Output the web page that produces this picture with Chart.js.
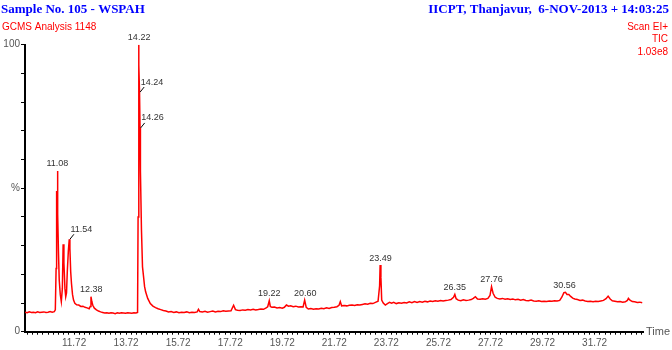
<!DOCTYPE html>
<html>
<head>
<meta charset="utf-8">
<script src="https://cdn.jsdelivr.net/npm/chart.js@4.4.1/dist/chart.umd.min.js"></script>
<style>
  html, body { margin: 0; padding: 0; background: #fff; }
  #wrap { width: 672px; height: 350px; }
</style>
</head>
<body>
<div id="wrap"><canvas id="tic" width="672" height="350"></canvas></div>
<script>
// retention time (min) and relative abundance (%)
const retentionTimes = [
  9.84, 9.92, 10.00, 10.08, 10.16, 10.24, 10.32, 10.40, 10.48, 10.56, 10.64, 10.72, 10.80, 10.88, 10.96,
  11.00, 11.03, 11.05, 11.065, 11.08, 11.10, 11.12, 11.15, 11.19, 11.23, 11.27, 11.30, 11.33, 11.37, 11.40,
  11.43, 11.46, 11.50, 11.535, 11.56, 11.59, 11.62, 11.66, 11.70, 11.75, 11.82, 11.90, 11.98, 12.06, 12.14,
  12.22, 12.30, 12.34, 12.37, 12.40, 12.44, 12.50, 12.58, 12.66, 12.74, 12.82, 12.90, 12.98, 13.06, 13.14,
  13.22, 13.30, 13.38, 13.46, 13.54, 13.62, 13.70, 13.78, 13.86, 13.94, 14.02, 14.10, 14.16, 14.18, 14.20,
  14.215, 14.235, 14.255, 14.27, 14.31, 14.35, 14.39, 14.43, 14.47, 14.55, 14.65, 14.75, 14.85, 14.95, 15.05,
  15.15, 15.25, 15.35, 15.45, 15.55, 15.65, 15.75, 15.85, 15.95, 16.05, 16.15, 16.25, 16.35, 16.45, 16.50,
  16.55, 16.65, 16.75, 16.85, 16.95, 17.05, 17.15, 17.25, 17.35, 17.45, 17.55, 17.65, 17.75, 17.85, 17.92,
  18.00, 18.10, 18.20, 18.30, 18.40, 18.50, 18.60, 18.70, 18.80, 18.90, 19.00, 19.10, 19.16, 19.22, 19.26,
  19.32, 19.42, 19.52, 19.62, 19.72, 19.80, 19.88, 19.96, 20.04, 20.14, 20.24, 20.34, 20.44, 20.52, 20.58,
  20.64, 20.72, 20.82, 20.92, 21.02, 21.12, 21.22, 21.32, 21.42, 21.52, 21.62, 21.72, 21.82, 21.90, 21.95,
  22.00, 22.10, 22.20, 22.30, 22.40, 22.50, 22.60, 22.70, 22.80, 22.90, 23.00, 23.10, 23.20, 23.30, 23.40,
  23.46, 23.48, 23.51, 23.54, 23.60, 23.68, 23.76, 23.84, 23.92, 24.00, 24.10, 24.20, 24.30, 24.40, 24.50,
  24.60, 24.70, 24.80, 24.90, 25.00, 25.10, 25.20, 25.30, 25.40, 25.50, 25.60, 25.70, 25.80, 25.90, 26.00,
  26.10, 26.20, 26.30, 26.35, 26.40, 26.48, 26.58, 26.68, 26.78, 26.88, 26.98, 27.06, 27.14, 27.22, 27.32,
  27.42, 27.52, 27.62, 27.70, 27.76, 27.82, 27.90, 27.98, 28.08, 28.18, 28.28, 28.38, 28.48, 28.58, 28.68,
  28.78, 28.88, 28.98, 29.08, 29.18, 29.28, 29.38, 29.48, 29.58, 29.68, 29.78, 29.88, 29.98, 30.08, 30.18,
  30.28, 30.38, 30.46, 30.54, 30.60, 30.66, 30.73, 30.80, 30.88, 30.96, 31.06, 31.16, 31.26, 31.36, 31.46,
  31.56, 31.66, 31.76, 31.86, 31.96, 32.06, 32.16, 32.24, 32.32, 32.40, 32.50, 32.60, 32.70, 32.80, 32.90,
  32.98, 33.02, 33.08, 33.17, 33.26, 33.36, 33.46, 33.55
];
const abundance = [
  6.8, 6.6, 6.9, 6.7, 6.8, 6.6, 6.9, 6.7, 6.8, 6.9, 6.7, 6.8, 7.0, 6.8, 7.0,
  7.6, 22, 49, 44, 56, 41, 28, 18, 13, 10.5, 15, 30.5, 24, 15, 12.2,
  13.5, 21, 28, 32.2, 29, 21, 16.9, 13, 11, 9.9, 9.4, 9.3, 8.8, 8.9, 8.5,
  8.3, 8.0, 8.8, 12.2, 10.6, 9.2, 8.2, 7.6, 7.2, 6.9, 6.7, 6.5, 6.6, 6.4, 6.6,
  6.5, 6.3, 6.6, 6.4, 6.6, 6.5, 6.4, 6.6, 6.5, 6.4, 6.6, 6.5, 6.7, 40, 100,
  93, 83.5, 71, 56, 35.4, 22.6, 19.2, 15.7, 13.9, 11.6, 9.8, 8.9, 8.4, 8.0, 7.7,
  7.4, 7.2, 6.9, 7.0, 6.7, 6.9, 6.6, 6.8, 6.7, 6.9, 6.6, 6.8, 6.7, 6.9, 7.8,
  7.0, 6.9, 7.1, 6.8, 7.0, 7.2, 6.9, 7.1, 7.0, 7.3, 7.1, 7.2, 7.3, 9.2, 7.7,
  7.5, 7.4, 7.6, 7.5, 7.7, 7.6, 7.8, 7.6, 7.7, 7.9, 7.8, 8.3, 8.7, 10.8, 8.8,
  8.5, 8.6, 8.3, 8.4, 8.2, 8.5, 9.3, 8.9, 9.0, 8.7, 8.9, 8.6, 8.7, 8.6, 11.0,
  8.5, 7.9, 8.1, 7.8, 8.0, 7.9, 8.2, 8.0, 8.3, 8.1, 8.4, 8.5, 8.7, 9.2, 10.5,
  9.0, 9.1, 9.0, 9.2, 9.3, 9.1, 9.4, 9.3, 9.5, 9.7, 9.6, 9.9, 9.8, 10.2, 10.6,
  16, 23.2, 19, 11, 10.0, 9.3, 9.8, 10.2, 9.9, 10.2, 9.8, 10.1, 9.9, 10.2, 10.0,
  10.4, 10.1, 10.5, 10.2, 10.5, 10.3, 10.6, 10.4, 10.7, 10.5, 10.8, 10.6, 10.9, 10.7, 10.9,
  11.0, 11.2, 12.0, 13.0, 11.5, 11.0, 10.8, 11.1, 10.9, 11.0, 11.2, 11.6, 12.2, 11.4, 11.3,
  11.5, 11.3, 11.6, 12.6, 15.7, 13.4, 12.0, 11.6, 11.4, 11.6, 11.3, 11.5, 11.2, 11.4, 11.1,
  11.3, 11.0, 11.2, 10.9, 10.8, 11.0, 10.7, 10.6, 10.8, 10.5, 10.6, 10.5, 10.7, 10.6, 10.8,
  10.7, 10.9, 12.0, 13.6, 13.7, 13.0, 13.0, 12.3, 11.7, 11.4, 11.2, 10.9, 11.0, 10.7, 10.5,
  10.6, 10.4, 10.6, 10.5, 10.7, 10.9, 11.5, 12.4, 11.4, 10.8, 10.6, 10.4, 10.5, 10.3, 10.4,
  10.9, 11.6, 11.0, 10.5, 10.4, 10.2, 10.3, 10.1
];

// labelled peaks
const peakTimes  = [11.08, 11.54, 12.38, 14.22, 14.24, 14.26, 19.22, 20.60, 23.49, 26.35, 27.76, 30.56];
const peakValues = [56, 32.2, 12.2, 100, 83.5, 71, 10.8, 11.0, 23.2, 13.0, 15.7, 13.7];
const peakLabels = ['11.08', '11.54', '12.38', '14.22', '14.24', '14.26', '19.22', '20.60', '23.49', '26.35', '27.76', '30.56'];
const leaderLabels = ['11.54', '14.24', '14.26'];

const xTickLabels = ['11.72', '13.72', '15.72', '17.72', '19.72', '21.72', '23.72', '25.72', '27.72', '29.72', '31.72'];
const yTickLabels = {100: '100', 50: '%', 0: '0'};

const headerPlugin = {
  id: 'header',
  afterDraw(chart) {
    const ctx = chart.ctx;
    const xs = chart.scales.x, ys = chart.scales.y;
    ctx.save();
    ctx.textBaseline = 'alphabetic';

    ctx.fillStyle = '#0000ff';
    ctx.font = 'bold 13px "Liberation Serif"';
    ctx.textAlign = 'left';
    ctx.fillText('Sample No. 105 - WSPAH', 1, 13);
    ctx.textAlign = 'right';
    ctx.fillText('IICPT, Thanjavur,  6-NOV-2013 + 14:03:25', 669, 13);

    ctx.fillStyle = '#ff0000';
    ctx.font = '10px "Liberation Sans"';
    ctx.textAlign = 'left';
    ctx.fillText('GCMS Analysis 1148', 2, 29.5);
    ctx.textAlign = 'right';
    ctx.fillText('Scan EI+', 668, 29.5);
    ctx.fillText('TIC', 668, 42);
    ctx.fillText('1.03e8', 668, 54.5);

    ctx.fillStyle = '#555';
    ctx.font = '11px "Liberation Sans"';
    ctx.textAlign = 'left';
    ctx.fillText('Time', 646, 335);

    // peak labels
    ctx.font = '9px "Liberation Sans"';
    ctx.fillStyle = '#333';
    ctx.strokeStyle = '#000';
    ctx.lineWidth = 1;
    ctx.textBaseline = 'middle';
    peakTimes.forEach((t, i) => {
      const px = xs.getPixelForValue(t);
      const py = ys.getPixelForValue(peakValues[i]);
      if (leaderLabels.includes(peakLabels[i])) {
        ctx.beginPath();
        ctx.moveTo(px + 0.5, py);
        ctx.lineTo(px + 4.5, py - 5);
        ctx.stroke();
        ctx.textAlign = 'left';
        ctx.fillText(peakLabels[i], px + 1, py - 10);
      } else {
        ctx.textAlign = 'center';
        ctx.fillText(peakLabels[i], px, py - 7);
      }
    });
    ctx.restore();
  }
};

const xMinor = [];
for (let k = 1; k <= 119; k++) xMinor.push(Math.round((9.72 + 0.2 * k) * 100) / 100);

const chart = new Chart(document.getElementById('tic'), {
  type: 'line',
  data: {
    datasets: [{
      data: retentionTimes.map((t, i) => ({x: t, y: abundance[i]})),
      borderColor: '#ff0000',
      borderWidth: 1.5,
      pointRadius: 0,
      tension: 0,
      fill: false
    }]
  },
  options: {
    responsive: false,
    animation: false,
    devicePixelRatio: 1,
    layout: {padding: {top: 44.7, left: 0, right: 29, bottom: 0}},
    plugins: {legend: {display: false}, tooltip: {enabled: false}},
    scales: {
      x: {
        type: 'linear',
        min: 9.835,
        max: 33.58,
        afterBuildTicks: (s) => { s.ticks = xMinor.map(v => ({value: v})); },
        afterFit: (s) => { s.height = 18.3; },
        grid: {drawOnChartArea: false, drawTicks: true, tickLength: 3, color: '#000'},
        border: {color: '#000', width: 2},
        ticks: {
          autoSkip: false, maxRotation: 0, padding: 3,
          color: '#555',
          font: {family: 'Liberation Sans', size: 10},
          callback: (v) => xTickLabels.includes(v.toFixed(2)) ? v.toFixed(2) : ''
        }
      },
      y: {
        min: 0,
        max: 100,
        afterFit: (s) => { s.width = 25; },
        grid: {drawOnChartArea: false, drawTicks: true, tickLength: 4, color: '#000'},
        border: {color: '#000', width: 2},
        ticks: {
          stepSize: 10, padding: 1,
          color: '#555',
          font: {family: 'Liberation Sans', size: 10},
          callback: (v) => yTickLabels[v] !== undefined ? yTickLabels[v] : ''
        }
      }
    }
  },
  plugins: [headerPlugin]
});
</script>
</body>
</html>
